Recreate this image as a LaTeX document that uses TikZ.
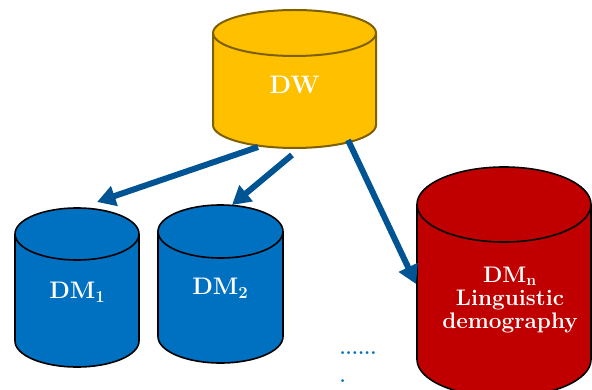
\documentclass[tikz,border=0pt]{standalone}
\usepackage{xcolor}
\usepackage{tikz}
\usetikzlibrary{arrows.meta, calc, positioning}
\definecolor{dwgold}{HTML}{FFC000}
\definecolor{dwedge}{HTML}{7F6000}
\definecolor{dmblue}{HTML}{0070C0}
\definecolor{dmred}{HTML}{C00000}
\definecolor{flowblue}{RGB}{0,84,147}
\tikzset{dwstore/.style={fill=dwgold, draw=dwedge, line width=0.5mm},
dmstore/.style={fill=dmblue, draw=black, line width=0.4mm},
dmnstore/.style={fill=dmred, draw=black, line width=0.4mm},
storelabel/.style={text=white, font=\fontsize{17}{20}\selectfont\bfseries, align=center, inner sep=0pt},
flow/.style={draw=flowblue, line width=1.5mm, -{Triangle[length=4.6mm,width=5mm]}}}
% name, centre x, top y, bottom y, x radius, y radius, style
\newcommand{\drum}[7]{%
  \filldraw[#7] (#2-#5,#3-#6) -- (#2-#5,#4+#6)
    arc[start angle=180, end angle=360, x radius=#5, y radius=#6]
    -- (#2+#5,#3-#6)
    arc[start angle=0, end angle=180, x radius=#5, y radius=#6] -- cycle;
  \draw[#7, fill=none] (#2-#5,#3-#6) arc[start angle=180, end angle=360, x radius=#5, y radius=#6];
  \coordinate (#1) at (#2,{(#3+#4)/2});
}

\begin{document}
\begin{tikzpicture}[x=0.025cm,y=0.025cm]
 \useasboundingbox (0,0) rectangle (592,389);
 %Drawing the warehouse
 \drum{dw}{294.5}{379}{241}{81.5}{23}{dwstore}
 \node[storelabel, font=\fontsize{18}{21}\selectfont\bfseries] (dwtext) at ($(dw)+(0,-5.5)$) {DW};

 %Drawing the marts
 \drum{dm1}{77}{181}{22}{62}{26}{dmstore}
 \node[storelabel] (dm1text) at ($(dm1)+(0.5,-4.5)$) {DM\textsubscript{1}};
 \drum{dm2}{220.5}{184}{26}{62.5}{26.5}{dmstore}
 \node[storelabel] (dm2text) at ($(dm2)+(0,-4.5)$) {DM\textsubscript{2}};
 \drum{dmn}{504}{222}{-8}{87}{37.5}{dmnstore}
 \node[storelabel, font=\fontsize{16}{16.5}\selectfont\bfseries] (dmntext) at ($(dmn)+(6,-18)$) {DM\textsubscript{n}\\Linguistic\\demography};

 \node (dots) [text=dmblue, font=\fontsize{14}{20}\selectfont\bfseries, align=left] at (358,22) {......\\.};

 %Arrows
 \draw[flow] ($(dw)+(-36.5,-68)$) -- ($(dm1)+(20,85.5)$);
 \draw[flow] ($(dw)+(-2.5,-76)$) -- ($(dm2)+(11.5,79)$);
 \draw[flow] ($(dw)+(53.5,-61)$) -- ($(dmn)+(-88,-2)$);
\end{tikzpicture}
\end{document}
